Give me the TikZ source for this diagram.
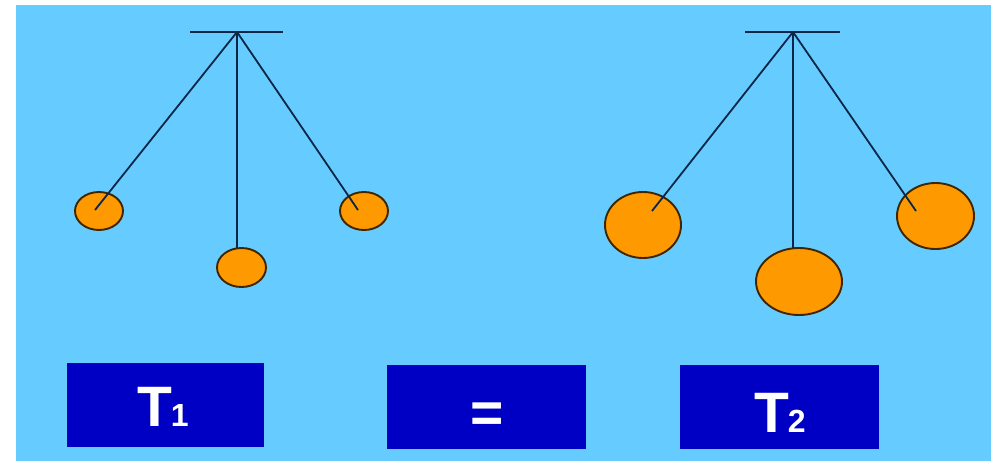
\documentclass[tikz,border=0pt]{standalone}
\usepackage{fontspec}
\setmainfont{Liberation Sans}
\usetikzlibrary{shapes.geometric}
\definecolor{sky}{HTML}{66CCFF}
\definecolor{bobfill}{HTML}{FF9900}
\definecolor{rope}{HTML}{0C2648}
\definecolor{panel}{HTML}{0000C4}
\tikzset{
  bar/.style={draw=rope, line width=2.2pt},
  string/.style={draw=rope, line width=1.8pt},
  bob/.style={ellipse, draw=black!75!bobfill, line width=1.9pt, fill=bobfill, inner sep=0pt, outer sep=0pt},
  panelbox/.style={fill=panel, inner sep=0pt, outer sep=0pt, text=white, font=\bfseries},
}
\newcommand{\bigT}[1]{\fontsize{57}{60}\selectfont T\fontsize{32}{34}\selectfont\kern-1.5pt#1}
\begin{document}
\begin{tikzpicture}[x=1pt, y=-1pt]
  \useasboundingbox (0,0) rectangle (991,461);
  \fill[sky] (16,5) rectangle (991,461);

  % ---- short pendulum ----
  \coordinate (p1) at (237,32);
  \draw[bar] (190,32) coordinate (b1l) -- (283,32) coordinate (b1r);
  \node[bob, minimum width=48pt, minimum height=38pt] (l1) at (99,211) {};
  \node[bob, minimum width=49pt, minimum height=39pt] (m1) at (241.5,267.5) {};
  \node[bob, minimum width=48pt, minimum height=38pt] (r1) at (364,211) {};
  \coordinate (l1e) at (95,210);
  \coordinate (r1e) at (358,210);
  \coordinate (m1e) at (237,248);
  \draw[string] (p1) -- (l1e);
  \draw[string] (p1) -- (m1e);
  \draw[string] (p1) -- (r1e);

  % ---- pendulum with heavier bobs ----
  \coordinate (p2) at (793,32);
  \draw[bar] (745,32) coordinate (b2l) -- (840,32) coordinate (b2r);
  \node[bob, minimum width=76pt, minimum height=66pt] (l2) at (643,225) {};
  \node[bob, minimum width=86pt, minimum height=67pt] (m2) at (799,281.5) {};
  \node[bob, minimum width=77pt, minimum height=66pt] (r2) at (935.5,216) {};
  \coordinate (l2e) at (652,211);
  \coordinate (r2e) at (916,211);
  \coordinate (m2e) at (793,248);
  \draw[string] (p2) -- (l2e);
  \draw[string] (p2) -- (m2e);
  \draw[string] (p2) -- (r2e);

  % ---- labels ----
  \node[panelbox, minimum width=197pt, minimum height=84pt] (t1) at (165.5,405) {};
  \node[panelbox, minimum width=199pt, minimum height=84pt] (eq) at (486.5,407) {};
  \node[panelbox, minimum width=199pt, minimum height=84pt] (t2) at (779.5,407) {};
  \node[text=white, font=\bfseries, anchor=base, inner sep=0pt] (t1txt) at (163,426) {\bigT{1}};
  \node[text=white, font=\bfseries, anchor=base, inner sep=0pt] (eqtxt) at (487,432) {\fontsize{57}{60}\selectfont =};
  \node[text=white, font=\bfseries, anchor=base, inner sep=0pt] (t2txt) at (780,432) {\bigT{2}};
\end{tikzpicture}
\end{document}
